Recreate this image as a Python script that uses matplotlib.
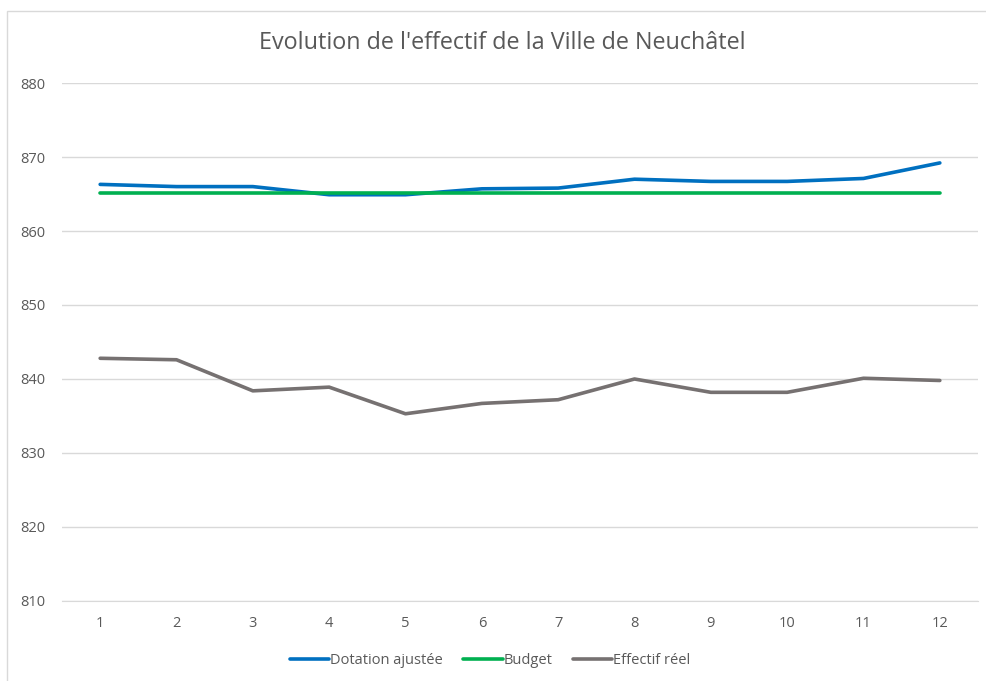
import matplotlib
matplotlib.use("Agg")
import matplotlib.pyplot as plt
from matplotlib.patches import Rectangle

# ------------------------------------------------------------
# Data
# ------------------------------------------------------------
mois = [1, 2, 3, 4, 5, 6, 7, 8, 9, 10, 11, 12]
dotation_ajustee = [866.3, 866.0, 866.0, 864.9, 864.9, 865.7, 865.8, 867.0, 866.7, 866.7, 867.1, 869.2]
budget = [865.2] * 12
effectif_reel = [842.8, 842.6, 838.4, 838.9, 835.3, 836.7, 837.2, 840.0, 838.2, 838.2, 840.1, 839.8]
y_ticks = [810, 820, 830, 840, 850, 860, 870, 880]

plt.rcParams["font.family"] = ["Open Sans", "DejaVu Sans"]

fig = plt.figure(figsize=(9.86, 6.81), dpi=100)
ax = fig.add_axes([62 / 986, 80 / 681, 916 / 986, 518 / 681])

# chart frame like the spreadsheet chart area
fig.patches.append(Rectangle((7 / 986, -0.02), 1.0, 1.0 - 11 / 681 + 0.02,
                             transform=fig.transFigure, fill=False,
                             edgecolor="#d9d9d9", linewidth=1.0))

lw = 2.6
ax.plot(mois, dotation_ajustee, color="#0070C0", linewidth=lw, label="Dotation ajustée",
        solid_capstyle="round", zorder=3)
ax.plot(mois, budget, color="#00B050", linewidth=lw, label="Budget",
        solid_capstyle="round", zorder=3)
ax.plot(mois, effectif_reel, color="#767171", linewidth=lw, label="Effectif réel",
        solid_capstyle="round", zorder=3)

ax.set_xlim(0.5, 12.5)
ax.set_ylim(810, 880)
ax.set_xticks(mois)
ax.set_yticks(y_ticks)
ax.grid(axis="y", color="#d9d9d9", linewidth=1.0)
ax.set_axisbelow(True)
for s in ["top", "right", "left"]:
    ax.spines[s].set_visible(False)
ax.spines["bottom"].set_color("#d9d9d9")
ax.tick_params(axis="both", length=0, colors="#595959", labelsize=10.5)
ax.tick_params(axis="x", pad=11)
ax.tick_params(axis="y", pad=30)
for lab in ax.get_yticklabels():
    lab.set_horizontalalignment("left")

fig.text(502.5 / 986, 1 - 43 / 681, "Evolution de l'effectif de la Ville de Neuchâtel",
         ha="center", va="center", fontsize=16.8, color="#595959")

fig.legend(loc="center", bbox_to_anchor=(490 / 986, 20 / 681), ncol=3, frameon=False,
           fontsize=10.5, labelcolor="#595959", handlelength=2.7, handletextpad=0.05,
           columnspacing=1.4)

fig.savefig("out.png", dpi=100)
